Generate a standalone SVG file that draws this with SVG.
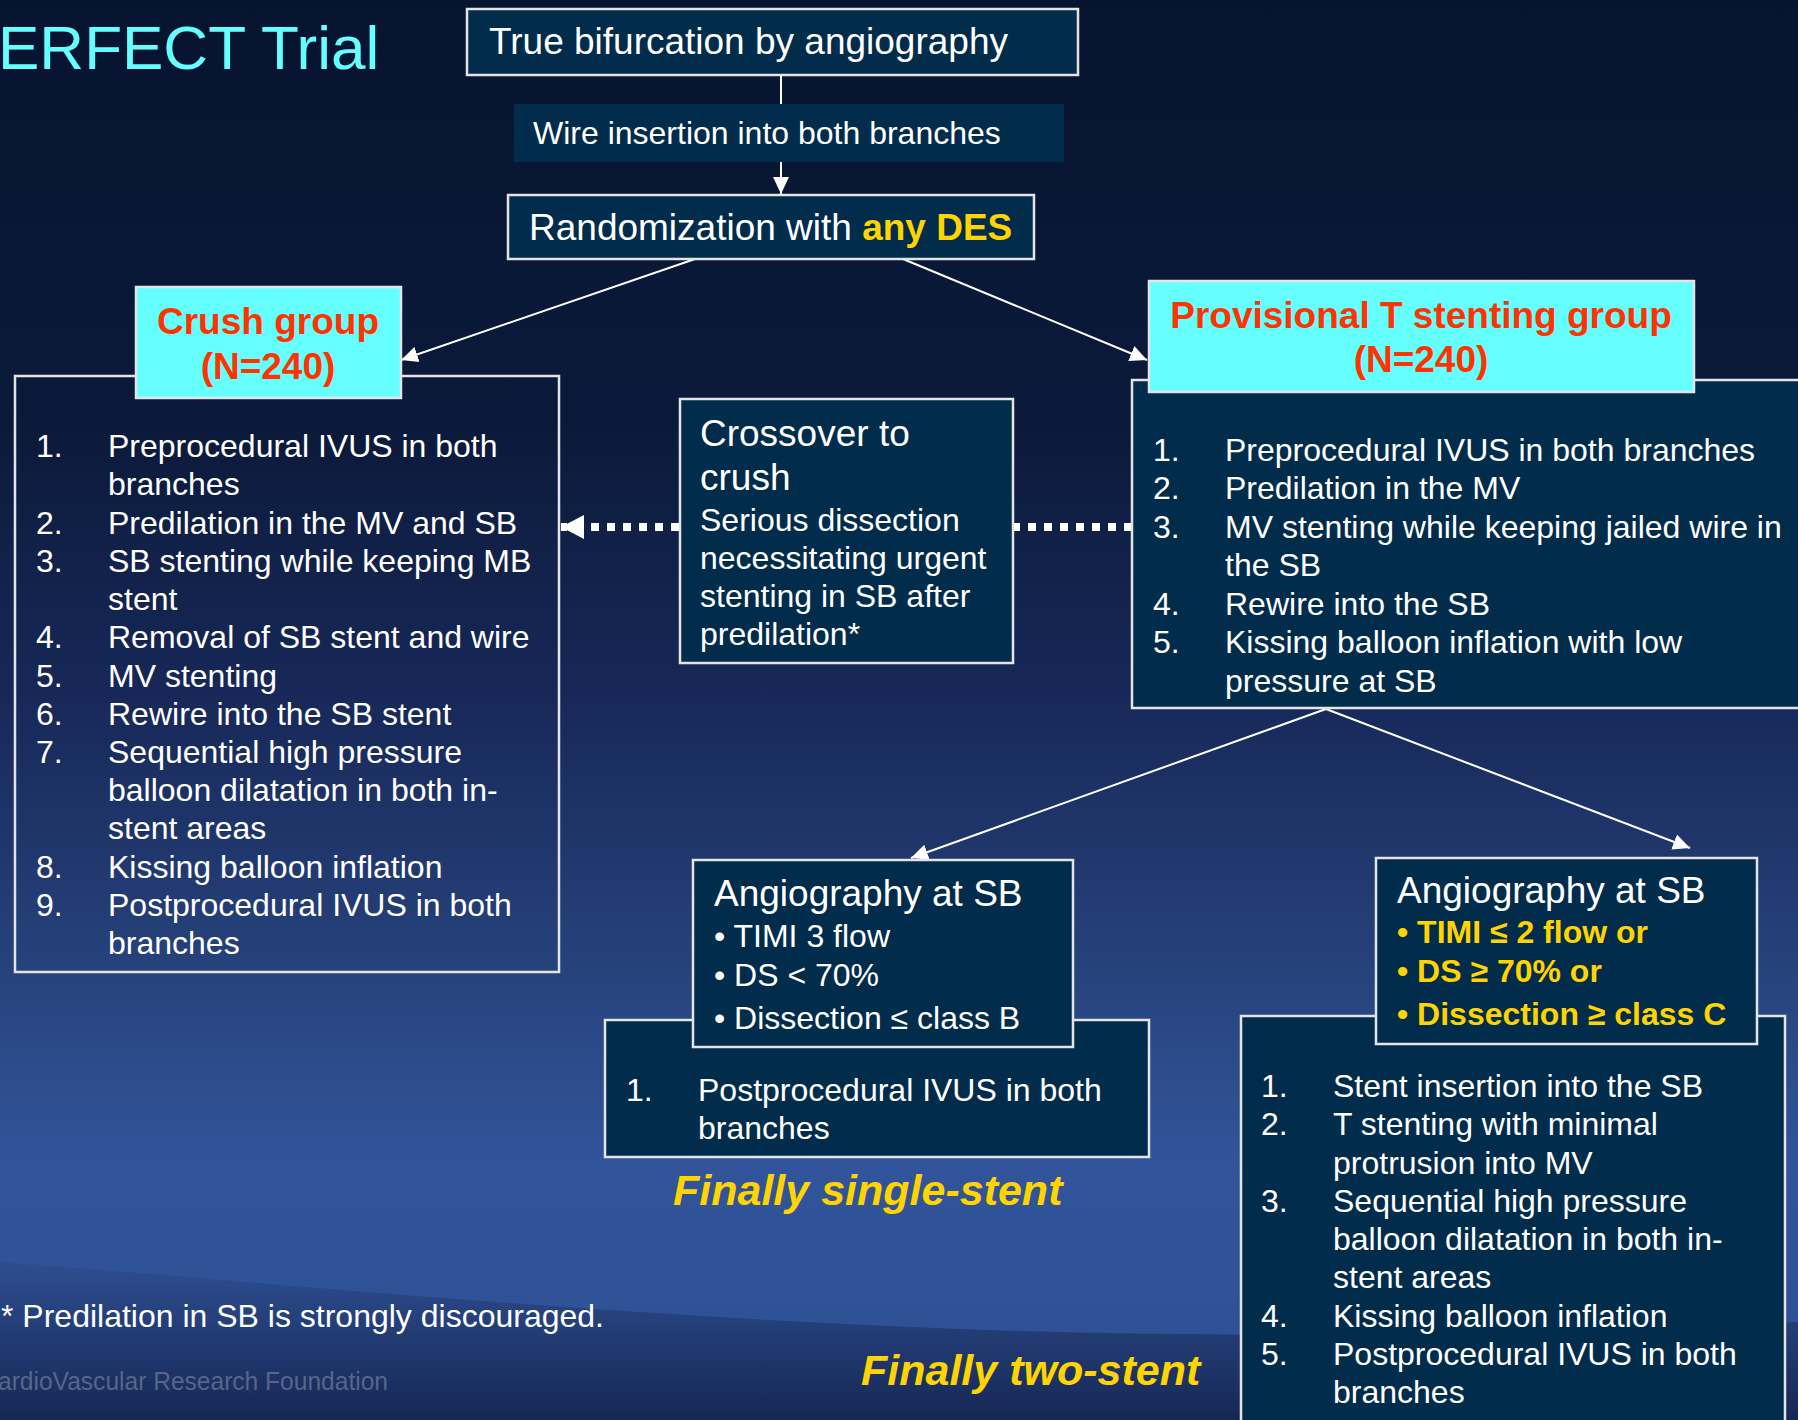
<svg xmlns="http://www.w3.org/2000/svg" width="1798" height="1420" viewBox="0 0 1798 1420">
<defs>
<linearGradient id="bg" x1="0" y1="0" x2="0" y2="1">
<stop offset="0" stop-color="#061430"/>
<stop offset="0.3" stop-color="#0b1a3a"/>
<stop offset="0.5" stop-color="#18295a"/>
<stop offset="0.7" stop-color="#28457f"/>
<stop offset="0.82" stop-color="#31549a"/>
<stop offset="1" stop-color="#2e4f92"/>
</linearGradient>
<linearGradient id="wave" x1="0" y1="0" x2="0" y2="1">
<stop offset="0" stop-color="#1f3568" stop-opacity="0.15"/>
<stop offset="0.45" stop-color="#1a2e5e" stop-opacity="0.6"/>
<stop offset="1" stop-color="#142550" stop-opacity="0.95"/>
</linearGradient>
<marker id="ah" markerUnits="userSpaceOnUse" markerWidth="18" markerHeight="18" viewBox="0 0 18 18" refX="17" refY="9" orient="auto">
<path d="M0,1 L17,9 L0,17 Z" fill="#ffffff"/>
</marker>
<marker id="ahb" markerUnits="userSpaceOnUse" markerWidth="24" markerHeight="26" viewBox="0 0 24 26" refX="23" refY="13" orient="auto">
<path d="M0,1 L23,13 L0,25 Z" fill="#ffffff"/>
</marker>
<style>
.box{fill:#022c4b;stroke:#e4e4e4;stroke-width:2.5}
.obox{fill:none;stroke:#e4e4e4;stroke-width:2.5}
.cyan{fill:#66ffff;stroke:#e4e4e4;stroke-width:2.5}
.t{font-family:"Liberation Sans",Arial,sans-serif;fill:#ffffff}
.s32{font-size:32px}
.s37{font-size:37px}
.grp{font-size:37px;font-weight:bold;fill:#ff3300;text-anchor:middle}
.yb{fill:#ffd400;font-weight:bold}
.fin{font-size:43px;font-weight:bold;font-style:italic;fill:#ffd400}
.conn{stroke:#ffffff;stroke-width:2;fill:none}
.dot{stroke:#ffffff;stroke-width:8;stroke-dasharray:8 8;fill:none}
</style>
</defs>

<rect x="0" y="0" width="1798" height="1420" fill="url(#bg)"/>
<path d="M0,1262 C300,1285 700,1325 1100,1333 C1400,1338 1650,1330 1798,1322 L1798,1420 L0,1420 Z" fill="url(#wave)"/>

<g id="title">
<text class="t" x="-2" y="69" font-size="62" style="fill:#66ffff">ERFECT Trial</text>
</g>

<g id="connectors">
<line class="conn" x1="781" y1="75" x2="781" y2="104"/>
<line class="conn" x1="781" y1="162" x2="781" y2="194" marker-end="url(#ah)"/>
<line class="conn" x1="695" y1="259" x2="401" y2="360" marker-end="url(#ah)"/>
<line class="conn" x1="903" y1="259" x2="1147" y2="360" marker-end="url(#ah)"/>
<line class="conn" x1="1326" y1="709" x2="911" y2="858" marker-end="url(#ah)"/>
<line class="conn" x1="1326" y1="709" x2="1690" y2="848" marker-end="url(#ah)"/>
<line class="dot" x1="679" y1="527" x2="561" y2="527" marker-end="url(#ahb)"/>
<line class="dot" x1="1132" y1="527" x2="1014" y2="527"/>
</g>

<g id="n-true">
<rect class="box" x="467" y="9" width="611" height="66"/>
<text class="t" x="489" y="54" font-size="37">True bifurcation by angiography</text>
</g>

<g id="n-wire">
<rect x="514" y="104" width="550" height="58" fill="#022c4b"/>
<text class="t s32" x="533" y="144">Wire insertion into both branches</text>
</g>

<g id="n-rand">
<rect class="box" x="508" y="195" width="526" height="64"/>
<text class="t s37" x="529" y="240">Randomization with <tspan class="yb">any DES</tspan></text>
</g>

<g id="n-crush-list">
<rect class="obox" x="15" y="376" width="544" height="596"/>
<g class="t s32">
<text x="36" y="457">1.</text><text x="108" y="457">Preprocedural IVUS in both</text>
<text x="108" y="495">branches</text>
<text x="36" y="534">2.</text><text x="108" y="534">Predilation in the MV and SB</text>
<text x="36" y="572">3.</text><text x="108" y="572">SB stenting while keeping MB</text>
<text x="108" y="610">stent</text>
<text x="36" y="648">4.</text><text x="108" y="648">Removal of SB stent and wire</text>
<text x="36" y="687">5.</text><text x="108" y="687">MV stenting</text>
<text x="36" y="725">6.</text><text x="108" y="725">Rewire into the SB stent</text>
<text x="36" y="763">7.</text><text x="108" y="763">Sequential high pressure</text>
<text x="108" y="801">balloon dilatation in both in-</text>
<text x="108" y="839">stent areas</text>
<text x="36" y="878">8.</text><text x="108" y="878">Kissing balloon inflation</text>
<text x="36" y="916">9.</text><text x="108" y="916">Postprocedural IVUS in both</text>
<text x="108" y="954">branches</text>
</g>
</g>

<g id="n-crush">
<rect class="cyan" x="136" y="287" width="265" height="111"/>
<text class="t grp" x="268" y="334">Crush group</text>
<text class="t grp" x="268" y="379">(N=240)</text>
</g>

<g id="n-prov-list">
<rect class="box" x="1132" y="380" width="680" height="328"/>
<g class="t s32">
<text x="1153" y="461">1.</text><text x="1225" y="461">Preprocedural IVUS in both branches</text>
<text x="1153" y="499">2.</text><text x="1225" y="499">Predilation in the MV</text>
<text x="1153" y="538">3.</text><text x="1225" y="538">MV stenting while keeping jailed wire in</text>
<text x="1225" y="576">the SB</text>
<text x="1153" y="615">4.</text><text x="1225" y="615">Rewire into the SB</text>
<text x="1153" y="653">5.</text><text x="1225" y="653">Kissing balloon inflation with low</text>
<text x="1225" y="692">pressure at SB</text>
</g>
</g>

<g id="n-prov">
<rect class="cyan" x="1149" y="281" width="545" height="111"/>
<text class="t grp" x="1421" y="328">Provisional T stenting group</text>
<text class="t grp" x="1421" y="372">(N=240)</text>
</g>

<g id="n-crossover">
<rect class="box" x="680" y="399" width="333" height="264"/>
<text class="t s37" x="700" y="446">Crossover to</text>
<text class="t s37" x="700" y="490">crush</text>
<g class="t s32">
<text x="700" y="531">Serious dissection</text>
<text x="700" y="569">necessitating urgent</text>
<text x="700" y="607">stenting in SB after</text>
<text x="700" y="645">predilation*</text>
</g>
</g>

<g id="n-single-list">
<rect class="box" x="605" y="1020" width="544" height="137"/>
<text class="t s32" x="626" y="1101">1.</text>
<text class="t s32" x="698" y="1101">Postprocedural IVUS in both</text>
<text class="t s32" x="698" y="1139">branches</text>
</g>

<g id="n-angio1">
<rect class="box" x="693" y="860" width="380" height="187"/>
<text class="t s37" x="714" y="906">Angiography at SB</text>
<g class="t s32">
<text x="714" y="947">• TIMI 3 flow</text>
<text x="714" y="986">• DS &lt; 70%</text>
<text x="714" y="1029">• Dissection ≤ class B</text>
</g>
</g>

<g id="n-two-list">
<rect class="box" x="1241" y="1016" width="544" height="420"/>
<g class="t s32">
<text x="1261" y="1097">1.</text><text x="1333" y="1097">Stent insertion into the SB</text>
<text x="1261" y="1135">2.</text><text x="1333" y="1135">T stenting with minimal</text>
<text x="1333" y="1174">protrusion into MV</text>
<text x="1261" y="1212">3.</text><text x="1333" y="1212">Sequential high pressure</text>
<text x="1333" y="1250">balloon dilatation in both in-</text>
<text x="1333" y="1288">stent areas</text>
<text x="1261" y="1327">4.</text><text x="1333" y="1327">Kissing balloon inflation</text>
<text x="1261" y="1365">5.</text><text x="1333" y="1365">Postprocedural IVUS in both</text>
<text x="1333" y="1403">branches</text>
</g>
</g>

<g id="n-angio2">
<rect class="box" x="1376" y="858" width="381" height="186"/>
<text class="t s37" x="1397" y="903">Angiography at SB</text>
<g class="t s32 yb">
<text x="1397" y="943">• TIMI ≤ 2 flow or</text>
<text x="1397" y="982">• DS ≥ 70% or</text>
<text x="1397" y="1025">• Dissection ≥ class C</text>
</g>
</g>

<g id="labels">
<text class="t fin" x="673" y="1205">Finally single-stent</text>
<text class="t fin" x="861" y="1385">Finally two-stent</text>
<text class="t s32" x="1" y="1327">* Predilation in SB is strongly discouraged.</text>
<text class="t" x="-2" y="1390" font-size="25" textLength="390" lengthAdjust="spacingAndGlyphs" style="fill:#8a95ad;fill-opacity:0.55">ardioVascular Research Foundation</text>
</g>
</svg>
